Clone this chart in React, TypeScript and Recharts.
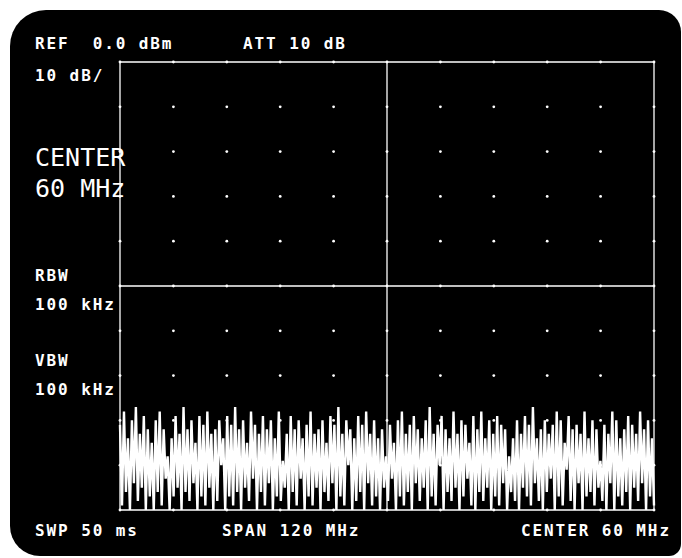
import React from "react";
import { LineChart, Line, XAxis, YAxis, ReferenceLine, ReferenceDot } from "recharts";

// Noise floor trace (dBm), left to right across 0..120 MHz
const NOISE: number[] = [
  -81, -99, -78, -96, -84, -100, -80, -94, -77, -98,
  -83, -95, -79, -100, -82, -97, -85, -100, -80, -96,
  -78, -99, -82, -93, -88, -100, -84, -97, -79, -95,
  -83, -100, -77, -96, -82, -98, -80, -94, -85, -100,
  -79, -97, -81, -99, -78, -95, -83, -100, -82, -98,
  -80, -90, -84, -100, -79, -97, -81, -99, -77, -96,
  -82, -100, -80, -95, -85, -98, -78, -93, -81, -100,
  -83, -96, -79, -99, -82, -94, -80, -100, -84, -97,
  -78, -98, -89, -95, -83, -100, -79, -96, -82, -99,
  -80, -93, -84, -100, -81, -97, -78, -99, -83, -95,
  -82, -100, -80, -96, -85, -98, -79, -94, -81, -100,
  -77, -97, -83, -99, -80, -90, -82, -100, -84, -98,
  -79, -96, -81, -100, -78, -94, -83, -99, -80, -97,
  -84, -100, -82, -95, -88, -98, -81, -93, -85, -100,
  -80, -97, -78, -99, -83, -96, -81, -100, -79, -94,
  -82, -98, -84, -95, -80, -100, -77, -97, -83, -99,
  -81, -90, -79, -100, -82, -96, -84, -98, -78, -95,
  -83, -100, -80, -97, -81, -93, -85, -99, -79, -100,
  -82, -96, -78, -98, -84, -95, -80, -100, -83, -97,
  -79, -99, -81, -94, -82, -100, -88, -96, -84, -98,
  -80, -100, -83, -95, -79, -97, -81, -99, -77, -94,
  -84, -98, -82, -100, -80, -96, -83, -93, -81, -100,
  -78, -97, -80, -99, -85, -91, -79, -98, -82, -100,
  -81, -94, -83, -100, -78, -97, -84, -96, -80, -99,
  -82, -95, -89, -98, -81, -100, -83, -94, -78, -100,
  -80, -97, -84, -99, -82, -96, -79, -100, -81, -95,
  -83, -98, -78, -94, -82, -100, -80, -97, -84, -99,
];

// Screen graticule: 0..120 MHz span, 0..-100 dBm (10 dB/div)
const X_DIVS = [0, 12, 24, 36, 48, 60, 72, 84, 96, 108, 120];
const Y_DIVS = [0, -10, -20, -30, -40, -50, -60, -70, -80, -90, -100];
const SPAN_MHZ = 120;

const data = NOISE.map((v, i) => ({
  f: (i * SPAN_MHZ) / (NOISE.length - 1),
  dbm: v,
}));

const W = 682;
const H = 558;
const WHITE = "#ffffff";
const MONO = "'DejaVu Sans Mono', 'Liberation Mono', monospace";

export default function App() {
  const dots: React.ReactNode[] = [];
  X_DIVS.forEach((x) =>
    Y_DIVS.forEach((y) => {
      dots.push(
        <ReferenceDot
          key={`d${x}_${y}`}
          x={x}
          y={y}
          r={1.4}
          fill={WHITE}
          stroke="none"
          ifOverflow="visible"
        />
      );
    })
  );

  const small = {
    fontFamily: MONO,
    fontSize: 16,
    fontWeight: 700,
    letterSpacing: 1.9,
    fill: WHITE,
  } as const;
  const big = {
    fontFamily: MONO,
    fontSize: 25,
    fontWeight: 400,
    fill: WHITE,
  } as const;

  return (
    <div style={{ position: "absolute", left: 0, top: 0, width: W, height: H, background: "#fff" }}>
      <div
        style={{
          position: "absolute",
          left: 10,
          top: 10,
          width: 671,
          height: 546,
          background: "#000",
          borderRadius: "36px 22px 12px 30px",
        }}
      />
      <div style={{ position: "absolute", left: 0, top: 0 }}>
        <LineChart
          width={W}
          height={H}
          data={data}
          margin={{ top: 62, right: 28, bottom: 48, left: 120 }}
        >
          <XAxis type="number" dataKey="f" domain={[0, 120]} hide />
          <YAxis type="number" domain={[-100, 0]} hide allowDataOverflow />
          <ReferenceLine x={0} stroke={WHITE} strokeWidth={1.3} />
          <ReferenceLine x={120} stroke={WHITE} strokeWidth={1.3} />
          <ReferenceLine x={60} stroke={WHITE} strokeWidth={1.3} />
          <ReferenceLine y={0} stroke={WHITE} strokeWidth={1.3} />
          <ReferenceLine y={-100} stroke={WHITE} strokeWidth={1.3} />
          <ReferenceLine y={-50} stroke={WHITE} strokeWidth={1.3} />
          {dots}
          <Line
            type="linear"
            dataKey="dbm"
            stroke={WHITE}
            strokeWidth={2.4}
            strokeLinejoin="bevel"
            dot={false}
            isAnimationActive={false}
          />
        </LineChart>
      </div>
      <svg
        width={W}
        height={H}
        style={{ position: "absolute", left: 0, top: 0, pointerEvents: "none" }}
      >
        <text x={35} y={49} {...small} xmlSpace="preserve">REF  0.0 dBm</text>
        <text x={243} y={49} {...small}>ATT 10 dB</text>
        <text x={35} y={81} {...small}>10 dB/</text>
        <text x={35} y={166} {...big}>CENTER</text>
        <text x={35} y={197} {...big}>60 MHz</text>
        <text x={35} y={281} {...small}>RBW</text>
        <text x={35} y={310} {...small}>100 kHz</text>
        <text x={35} y={366} {...small}>VBW</text>
        <text x={35} y={395} {...small}>100 kHz</text>
        <text x={35} y={536} {...small}>SWP 50 ms</text>
        <text x={222} y={536} {...small}>SPAN 120 MHz</text>
        <text x={521} y={536} {...small}>CENTER 60 MHz</text>
      </svg>
    </div>
  );
}
